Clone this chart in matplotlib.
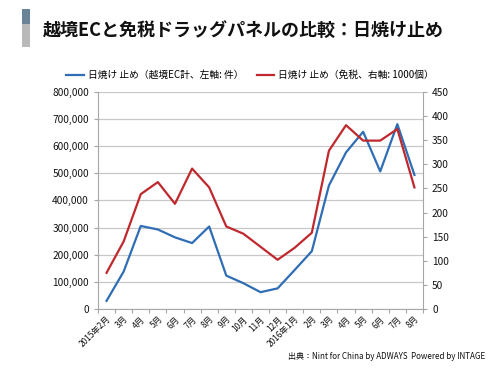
import matplotlib
matplotlib.use("Agg")
import matplotlib.pyplot as plt
from matplotlib.patches import Rectangle
from matplotlib.ticker import FuncFormatter, MultipleLocator, FixedLocator
import numpy as np

plt.rcParams["font.family"] = ["Noto Sans CJK JP", "DejaVu Sans"]

months = ["2015年2月", "3月", "4月", "5月", "6月", "7月", "8月", "9月", "10月",
          "11月", "12月", "2016年1月", "2月", "3月", "4月", "5月", "6月", "7月", "8月"]
ec_counts = [30000, 138000, 306000, 293000, 264000, 243000, 304000, 123000, 95000,
             62000, 76000, 144000, 213000, 455000, 577000, 653000, 507000, 681000, 494000]
dutyfree_k = [75, 140, 238, 263, 218, 291, 252, 171, 156, 129, 102, 127, 158,
              328, 381, 349, 349, 373, 252]

blue = "#2f6db5"
red = "#c0282d"
grid_c = "#c8c8c8"

fig = plt.figure(figsize=(5, 3.75), dpi=100)
fig.patch.set_facecolor("white")

# title decoration bar
fig.patches.append(Rectangle((0.044, 0.937), 0.016, 0.04, transform=fig.transFigure,
                             facecolor="#6b8397", edgecolor="none"))
fig.patches.append(Rectangle((0.044, 0.875), 0.016, 0.062, transform=fig.transFigure,
                             facecolor="#b9b9b9", edgecolor="none"))
fig.text(0.086, 0.918, "越境ECと免税ドラッグパネルの比較：日焼け止め", fontsize=13,
         fontweight="bold", va="center", ha="left", color="#111111")

ax = fig.add_axes([0.196, 0.176, 0.65, 0.579])
x = np.arange(len(months))
l1, = ax.plot(x, ec_counts, color=blue, lw=1.6,
              label="日焼け 止め（越境EC計、左軸: 件）")
ax.set_ylim(0, 800000)
ax.set_xlim(-0.5, len(months) - 0.5)
ax.yaxis.set_major_locator(MultipleLocator(100000))
ax.yaxis.set_major_formatter(FuncFormatter(lambda v, p: f"{int(v):,}"))
ax.grid(axis="y", color=grid_c, lw=0.9)
ax.set_axisbelow(True)

ax2 = ax.twinx()
l2, = ax2.plot(x, dutyfree_k, color=red, lw=1.6,
               label="日焼け 止め（免税、右軸: 1000個）")
ax2.set_ylim(0, 450)
ax2.yaxis.set_major_locator(MultipleLocator(50))

for a in (ax, ax2):
    a.spines["top"].set_visible(False)
    for s in ("left", "right", "bottom"):
        a.spines[s].set_color("#a6a6a6")
        a.spines[s].set_linewidth(0.8)
ax.spines["right"].set_visible(False)
ax2.spines["left"].set_visible(False)
ax2.spines["bottom"].set_visible(False)

ax.tick_params(axis="y", labelsize=7.3, color="#a6a6a6", length=3, labelcolor="#111111")
ax2.tick_params(axis="y", labelsize=7.3, color="#a6a6a6", length=3, labelcolor="#111111")

# x ticks: marks at boundaries, labels at centers
ax.xaxis.set_major_locator(FixedLocator(np.arange(-0.5, len(months), 1.0)))
ax.xaxis.set_major_formatter(FuncFormatter(lambda v, p: ""))
ax.xaxis.set_minor_locator(FixedLocator(x))
ax.set_xticklabels(months, minor=True, rotation=45, ha="right", rotation_mode="anchor")
ax.tick_params(axis="x", which="major", color="#a6a6a6", length=3)
ax.tick_params(axis="x", which="minor", length=0, labelsize=6, pad=4, labelcolor="#111111")

fig.legend(handles=[l1, l2], loc="center", bbox_to_anchor=(0.5, 0.80), ncol=2,
           frameon=False, fontsize=7, handlelength=1.8, columnspacing=1.4,
           handletextpad=0.4)

fig.text(0.97, 0.05, "出典：Nint for China by ADWAYS  Powered by INTAGE", fontsize=5.8,
         ha="right", va="center", color="#111111")

fig.savefig("out.png", dpi=100)
